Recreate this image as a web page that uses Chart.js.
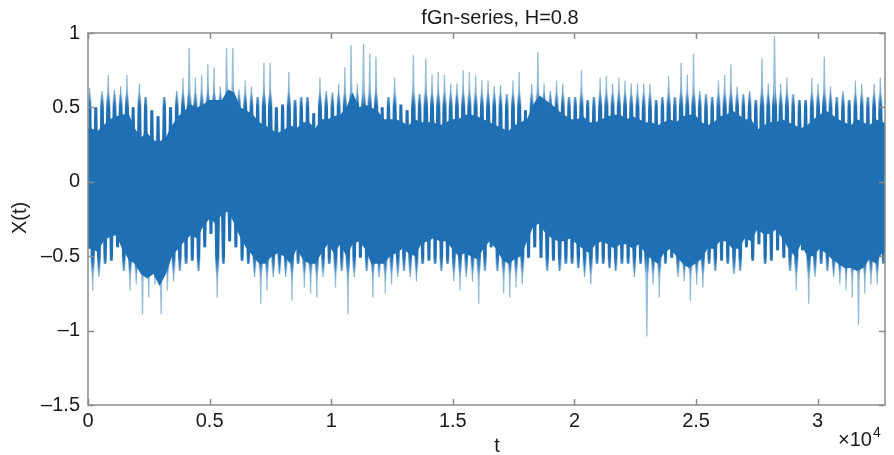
<!DOCTYPE html>
<html>
<head>
<meta charset="utf-8">
<script src="https://cdn.jsdelivr.net/npm/chart.js@4.4.0/dist/chart.umd.min.js"></script>
<style>
  html, body { margin: 0; padding: 0; background: #fff; }
  #wrap { width: 894px; height: 455px; position: relative; }
</style>
</head>
<body>
<div id="wrap"><canvas id="fgnChart"></canvas></div>
<script>
// 32768 samples, read off the picture as 128 bins of 256 samples each:
// the tips of the thin (light) spikes and the edges of the dense dark band.
const BIN = 256;
const N_SAMPLES = 32768;

const spikeHi = [
  0.63, 0.50, 0.61, 0.72, 0.62, 0.64, 0.72, 0.50, 0.66, 0.57, 0.48, 0.44, 0.57, 0.50, 0.61, 0.70, 0.90, 0.70, 0.72, 0.79, 0.77,
  0.64, 0.90, 0.90, 0.62, 0.68, 0.64, 0.57, 0.80, 0.80, 0.50, 0.52, 0.74, 0.55, 0.57, 0.57, 0.46, 0.70, 0.61, 0.60, 0.66, 0.77, 0.92,
  0.66, 0.93, 0.86, 0.84, 0.50, 0.57, 0.70, 0.52, 0.48, 0.85, 0.59, 0.83, 0.72, 0.74, 0.72, 0.66, 0.66, 0.75, 0.74, 0.72, 0.68,
  0.68, 0.64, 0.65, 0.59, 0.68, 0.74, 0.48, 0.66, 0.87, 0.66, 0.61, 0.68, 0.66, 0.57, 0.57, 0.75, 0.55, 0.57, 0.70, 0.71, 0.66, 0.70,
  0.68, 0.66, 0.66, 0.66, 0.66, 0.55, 0.57, 0.71, 0.57, 0.80, 0.72, 0.86, 0.61, 0.59, 0.57, 0.68, 0.72, 0.79, 0.64, 0.59, 0.61,
  0.55, 0.83, 0.66, 0.98, 0.66, 0.70, 0.59, 0.55, 0.55, 0.70, 0.66, 0.84, 0.64, 0.57, 0.61, 0.55, 0.68, 0.66, 0.57, 0.66, 0.70
];

const spikeLo = [
  -0.73, -0.64, -0.55, -0.53, -0.44, -0.60, -0.73, -0.69, -0.89, -0.78, -0.69, -0.89, -0.73, -0.67, -0.60, -0.55, -0.53, -0.60, -0.44, -0.35, -0.78,
  -0.55, -0.40, -0.44, -0.53, -0.55, -0.64, -0.82, -0.73, -0.64, -0.62, -0.64, -0.80, -0.55, -0.71, -0.75, -0.78, -0.64, -0.55, -0.71, -0.60, -0.89, -0.64,
  -0.51, -0.60, -0.78, -0.64, -0.75, -0.69, -0.64, -0.60, -0.64, -0.67, -0.55, -0.53, -0.55, -0.60, -0.55, -0.67, -0.73, -0.64, -0.67, -0.82, -0.60,
  -0.44, -0.60, -0.75, -0.78, -0.71, -0.69, -0.51, -0.44, -0.51, -0.60, -0.53, -0.60, -0.55, -0.55, -0.58, -0.64, -0.69, -0.55, -0.55, -0.58, -0.60, -0.55,
  -0.55, -0.64, -0.55, -1.04, -0.69, -0.78, -0.55, -0.51, -0.64, -0.67, -0.80, -0.69, -0.71, -0.55, -0.60, -0.53, -0.55, -0.62, -0.60, -0.44, -0.53,
  -0.42, -0.55, -0.53, -0.46, -0.51, -0.60, -0.73, -0.46, -0.82, -0.64, -0.55, -0.60, -0.64, -0.69, -0.73, -0.78, -0.96, -0.75, -0.69, -0.69, -0.55
];

const coreHi = [
  0.36, 0.34, 0.38, 0.42, 0.44, 0.45, 0.46, 0.36, 0.30, 0.33, 0.28, 0.27, 0.30, 0.38, 0.44, 0.48, 0.52, 0.50, 0.52, 0.55, 0.55,
  0.55, 0.62, 0.60, 0.50, 0.48, 0.45, 0.40, 0.38, 0.35, 0.33, 0.35, 0.38, 0.36, 0.40, 0.40, 0.36, 0.42, 0.42, 0.44, 0.45, 0.50, 0.60,
  0.50, 0.52, 0.50, 0.48, 0.42, 0.42, 0.42, 0.40, 0.38, 0.42, 0.40, 0.40, 0.40, 0.38, 0.40, 0.42, 0.42, 0.45, 0.45, 0.44, 0.42,
  0.40, 0.38, 0.36, 0.34, 0.38, 0.40, 0.42, 0.52, 0.58, 0.55, 0.52, 0.48, 0.45, 0.42, 0.42, 0.44, 0.40, 0.40, 0.42, 0.44, 0.45, 0.45,
  0.42, 0.44, 0.42, 0.40, 0.40, 0.38, 0.40, 0.42, 0.40, 0.44, 0.45, 0.45, 0.40, 0.38, 0.40, 0.44, 0.45, 0.48, 0.45, 0.42, 0.42,
  0.35, 0.38, 0.40, 0.40, 0.42, 0.40, 0.38, 0.36, 0.38, 0.42, 0.45, 0.48, 0.45, 0.42, 0.40, 0.38, 0.42, 0.40, 0.38, 0.42, 0.40
];

const coreLo = [
  -0.45, -0.47, -0.40, -0.37, -0.36, -0.45, -0.52, -0.55, -0.62, -0.65, -0.62, -0.70, -0.62, -0.50, -0.45, -0.40, -0.36, -0.38, -0.30, -0.25, -0.28,
  -0.22, -0.20, -0.28, -0.38, -0.45, -0.50, -0.55, -0.55, -0.50, -0.48, -0.50, -0.55, -0.45, -0.52, -0.55, -0.55, -0.48, -0.42, -0.48, -0.42, -0.50, -0.42,
  -0.40, -0.45, -0.55, -0.55, -0.55, -0.50, -0.48, -0.45, -0.48, -0.50, -0.42, -0.40, -0.38, -0.40, -0.40, -0.45, -0.50, -0.48, -0.50, -0.52, -0.45,
  -0.40, -0.45, -0.52, -0.55, -0.52, -0.50, -0.40, -0.30, -0.28, -0.35, -0.38, -0.40, -0.40, -0.38, -0.42, -0.45, -0.48, -0.42, -0.40, -0.42, -0.45, -0.42,
  -0.42, -0.45, -0.42, -0.48, -0.52, -0.55, -0.48, -0.45, -0.50, -0.55, -0.58, -0.55, -0.52, -0.45, -0.45, -0.40, -0.40, -0.45, -0.45, -0.38, -0.40,
  -0.32, -0.35, -0.35, -0.32, -0.38, -0.45, -0.50, -0.42, -0.50, -0.50, -0.45, -0.48, -0.52, -0.55, -0.58, -0.58, -0.60, -0.58, -0.52, -0.55, -0.48
];

const xTicks = [0, 5000, 10000, 15000, 20000, 25000, 30000];
const yTicks = [-1.5, -1, -0.5, 0, 0.5, 1];

const FONT = "'Liberation Sans', Arial, Helvetica, sans-serif";
const DARK = "#1f6fb4";
const MID = "#5592c6";
const LIGHT = "#93bdd9";
const CLEAR = "rgba(31,111,180,0)";

// high point then low point inside every bin
function zigzag(hi, lo) {
  const pts = [];
  for (let i = 0; i < hi.length; i++) {
    pts.push({ x: i * BIN + BIN / 4, y: hi[i] });
    pts.push({ x: i * BIN + (3 * BIN) / 4, y: lo[i] });
  }
  return pts;
}

// one point per bin, for the edges of the dark band
function edge(vals) {
  const pts = [{ x: 0, y: vals[0] }];
  vals.forEach((v, i) => pts.push({ x: i * BIN + BIN / 2, y: v }));
  pts.push({ x: N_SAMPLES, y: vals[vals.length - 1] });
  return pts;
}

// vertical colour ramps in data units (stops: [value, colour])
const cache = {};
function ramp(name, stops) {
  return function (context) {
    const chart = context.chart;
    if (!chart.chartArea) return stops[0][1];
    if (cache[name]) return cache[name];
    const y = chart.scales.y;
    const top = y.getPixelForValue(1);
    const bottom = y.getPixelForValue(-1.5);
    const g = chart.ctx.createLinearGradient(0, top, 0, bottom);
    stops.forEach(([v, c]) => g.addColorStop((1 - v) / 2.5, c));
    cache[name] = g;
    return g;
  };
}

// thin strokes: dark where they overlap the band, pale at the tips
const tipColor = ramp("tip", [
  [1, LIGHT], [0.66, LIGHT], [0.54, MID], [0.44, DARK],
  [-0.44, DARK], [-0.56, MID], [-0.68, LIGHT], [-1.5, LIGHT],
]);
// wide strokes: only their bases show, giving the band a ragged edge
const baseColor = ramp("base", [
  [1, CLEAR], [0.6, CLEAR], [0.5, DARK],
  [-0.5, DARK], [-0.62, CLEAR], [-1.5, CLEAR],
]);

function fmtY(v) {
  return v < 0 ? "\u2013" + String(-v) : String(v);
}

// MATLAB-like box, inward ticks on all four sides, and the labels
const matlabAxes = {
  id: "matlabAxes",
  afterDraw(chart) {
    const ctx = chart.ctx;
    const a = chart.chartArea;
    const sx = chart.scales.x;
    const sy = chart.scales.y;
    const tl = 6;

    ctx.save();
    ctx.strokeStyle = "#8c8c8c";
    ctx.lineWidth = 1.5;
    ctx.strokeRect(a.left, a.top, a.right - a.left, a.bottom - a.top);
    ctx.beginPath();
    xTicks.forEach((v) => {
      const px = Math.round(sx.getPixelForValue(v)) + 0.5;
      ctx.moveTo(px, a.bottom);
      ctx.lineTo(px, a.bottom - tl);
      ctx.moveTo(px, a.top);
      ctx.lineTo(px, a.top + tl);
    });
    yTicks.forEach((v) => {
      const py = Math.round(sy.getPixelForValue(v)) + 0.5;
      ctx.moveTo(a.left, py);
      ctx.lineTo(a.left + tl, py);
      ctx.moveTo(a.right, py);
      ctx.lineTo(a.right - tl, py);
    });
    ctx.stroke();

    ctx.fillStyle = "#1a1a1a";
    ctx.font = "20px " + FONT;
    ctx.textAlign = "center";
    ctx.textBaseline = "alphabetic";
    ctx.fillText("fGn-series, H=0.8", 500, 24);
    ctx.fillText("t", 497, 452);

    ctx.save();
    ctx.translate(20, 218);
    ctx.rotate(-Math.PI / 2);
    ctx.textBaseline = "middle";
    ctx.fillText("X(t)", 0, 0);
    ctx.restore();

    ctx.textAlign = "left";
    const mult = "\u00d710";
    ctx.fillText(mult, 838, 446);
    const w = ctx.measureText(mult).width;
    ctx.font = "14px " + FONT;
    ctx.fillText("4", 838 + w + 1, 437);
    ctx.restore();
  }
};

const ctx = document.getElementById("fgnChart").getContext("2d");
const fgnChart = new Chart(ctx, {
  type: "line",
  data: {
    datasets: [
      {
        label: "band top",
        data: edge(coreHi),
        borderColor: DARK,
        borderWidth: 0,
        pointRadius: 0,
        tension: 0,
        fill: false,
        order: 0,
      },
      {
        label: "band bottom",
        data: edge(coreLo),
        borderColor: DARK,
        backgroundColor: DARK,
        borderWidth: 0,
        pointRadius: 0,
        tension: 0,
        fill: "-1",
        order: 0,
      },
      {
        label: "spike bases",
        data: zigzag(spikeHi, spikeLo),
        borderColor: baseColor,
        borderWidth: 3,
        borderJoinStyle: "bevel",
        pointRadius: 0,
        tension: 0,
        fill: false,
        order: 1,
      },
      {
        label: "spikes",
        data: zigzag(spikeHi, spikeLo),
        borderColor: tipColor,
        borderWidth: 1.3,
        borderJoinStyle: "bevel",
        pointRadius: 0,
        tension: 0,
        fill: false,
        order: 2,
      },
    ],
  },
  options: {
    responsive: true,
    maintainAspectRatio: false,
    animation: false,
    events: [],
    layout: { padding: { top: 33, right: 9, left: 0, bottom: 0 } },
    plugins: {
      legend: { display: false },
      tooltip: { enabled: false },
      title: { display: false },
      filler: { drawTime: "beforeDatasetDraw" },
    },
    scales: {
      x: {
        type: "linear",
        min: 0,
        max: N_SAMPLES,
        grid: { display: false, drawTicks: false },
        border: { display: false },
        afterBuildTicks: (scale) => {
          scale.ticks = xTicks.map((v) => ({ value: v }));
        },
        afterFit: (scale) => {
          scale.height = 50;
        },
        ticks: {
          padding: 4,
          maxRotation: 0,
          autoSkip: false,
          color: "#1a1a1a",
          font: { family: FONT, size: 20 },
          callback: (v) => String(v / 10000),
        },
      },
      y: {
        type: "linear",
        min: -1.5,
        max: 1,
        grid: { display: false, drawTicks: false },
        border: { display: false },
        afterBuildTicks: (scale) => {
          scale.ticks = yTicks.map((v) => ({ value: v }));
        },
        afterFit: (scale) => {
          scale.width = 88;
        },
        ticks: {
          padding: 8,
          autoSkip: false,
          color: "#1a1a1a",
          font: { family: FONT, size: 20 },
          callback: (v) => fmtY(v),
        },
      },
    },
  },
  plugins: [matlabAxes],
});
</script>
</body>
</html>
